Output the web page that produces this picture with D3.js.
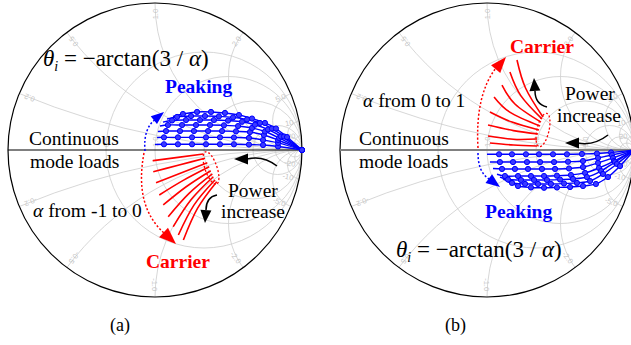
<!DOCTYPE html>
<html>
<head>
<meta charset="utf-8">
<script src="https://cdn.jsdelivr.net/npm/d3@7/dist/d3.min.js"></script>
<style>
  body { margin: 0; background: #fff; }
  svg { display: block; }
</style>
</head>
<body>
<svg id="fig" width="631" height="345"></svg>
<script>
// Smith chart grid values
var resistanceCircles = [0.5, 1, 2, 5, 10, 20];
var resistanceLabels = ['0.5', '1.0', '2.0', '5.0'];
var reactanceArcs = [0.2, 0.5, 1, 2, 5, 10, 20];
var reactanceLabels = ['0.2', '0.5', '1.0', '2.0', '5.0', '10', '20'];

// (a) peaking load trajectories, reflection coefficient [re, im]
var peakingA = [
  [[0.000,0.037],[0.061,0.039],[0.156,0.039],[0.252,0.039],[0.347,0.039],[0.442,0.039],[0.537,0.039],[0.639,0.037],[0.735,0.034],[0.837,0.024],[1,0]],
  [[0.014,0.085],[0.061,0.086],[0.156,0.086],[0.252,0.086],[0.347,0.086],[0.442,0.086],[0.537,0.085],[0.639,0.082],[0.735,0.068],[0.837,0.048],[1,0]],
  [[0.020,0.126],[0.075,0.129],[0.170,0.129],[0.265,0.129],[0.361,0.129],[0.456,0.129],[0.551,0.127],[0.646,0.122],[0.741,0.102],[0.837,0.068],[1,0]],
  [[0.034,0.163],[0.088,0.170],[0.184,0.170],[0.279,0.170],[0.374,0.170],[0.469,0.168],[0.565,0.163],[0.660,0.150],[0.748,0.126],[0.844,0.082],[1,0]],
  [[0.054,0.190],[0.116,0.201],[0.211,0.204],[0.306,0.204],[0.401,0.204],[0.497,0.200],[0.592,0.192],[0.680,0.172],[0.769,0.140],[0.857,0.092],[1,0]],
  [[0.082,0.211],[0.150,0.225],[0.245,0.231],[0.340,0.231],[0.435,0.229],[0.531,0.222],[0.626,0.208],[0.714,0.184],[0.796,0.146],[0.878,0.092],[1,0]],
  [[0.122,0.228],[0.190,0.245],[0.286,0.259],[0.381,0.259],[0.476,0.252],[0.571,0.238],[0.660,0.214],[0.748,0.184],[0.823,0.146],[0.898,0.088],[1,0]]
];

// (a) carrier load trajectories [start, middle, end]
var carrierA = [
  [[-0.016,-0.073],[0.156,-0.050],[0.329,-0.027]],
  [[-0.012,-0.148],[0.164,-0.102],[0.340,-0.056]],
  [[0.007,-0.222],[0.181,-0.154],[0.356,-0.086]],
  [[0.029,-0.306],[0.195,-0.205],[0.369,-0.114]],
  [[0.056,-0.374],[0.212,-0.250],[0.379,-0.141]],
  [[0.090,-0.454],[0.230,-0.297],[0.390,-0.163]],
  [[0.124,-0.522],[0.246,-0.337],[0.397,-0.182]],
  [[0.159,-0.578],[0.266,-0.373],[0.408,-0.204]],
  [[0.193,-0.612],[0.290,-0.396],[0.420,-0.216]]
];

// (b) peaking load trajectories
var peakingB = [
  [[0.000,-0.029],[0.082,-0.029],[0.170,-0.029],[0.265,-0.029],[0.354,-0.029],[0.449,-0.029],[0.544,-0.029],[0.646,-0.027],[0.748,-0.024],[0.844,-0.017],[1,0]],
  [[0.020,-0.082],[0.088,-0.082],[0.177,-0.082],[0.272,-0.082],[0.361,-0.082],[0.456,-0.082],[0.551,-0.080],[0.653,-0.075],[0.755,-0.054],[0.850,-0.034],[1,0]],
  [[0.041,-0.126],[0.102,-0.129],[0.190,-0.129],[0.279,-0.129],[0.374,-0.129],[0.463,-0.129],[0.558,-0.126],[0.653,-0.116],[0.755,-0.088],[0.857,-0.054],[1,0]],
  [[0.068,-0.165],[0.122,-0.177],[0.211,-0.177],[0.299,-0.177],[0.388,-0.177],[0.476,-0.175],[0.571,-0.170],[0.667,-0.156],[0.762,-0.122],[0.864,-0.075],[1,0]],
  [[0.088,-0.184],[0.143,-0.201],[0.231,-0.204],[0.320,-0.204],[0.408,-0.204],[0.497,-0.201],[0.585,-0.197],[0.680,-0.184],[0.776,-0.143],[0.871,-0.082],[1,0]],
  [[0.109,-0.197],[0.170,-0.224],[0.259,-0.231],[0.347,-0.231],[0.435,-0.231],[0.524,-0.228],[0.612,-0.224],[0.701,-0.211],[0.789,-0.163],[0.884,-0.095],[1,0]],
  [[0.136,-0.211],[0.211,-0.245],[0.299,-0.255],[0.388,-0.257],[0.476,-0.255],[0.565,-0.252],[0.653,-0.245],[0.741,-0.231],[0.823,-0.184],[0.905,-0.109],[1,0]]
];

// (b) carrier load trajectories [start, middle, end]
var carrierB = [
  [[0.204,0.612],[0.262,0.422],[0.381,0.224]],
  [[0.156,0.531],[0.230,0.370],[0.374,0.211]],
  [[0.102,0.442],[0.190,0.313],[0.367,0.190]],
  [[0.048,0.361],[0.155,0.258],[0.361,0.163]],
  [[0.020,0.259],[0.170,0.190],[0.354,0.136]],
  [[0.007,0.170],[0.180,0.132],[0.347,0.109]],
  [[0.007,0.095],[0.180,0.073],[0.340,0.075]],
  [[0.020,0.048],[0.180,0.034],[0.340,0.027]]
];

var SERIF = '"Liberation Serif", "Times New Roman", Times, serif';
var svg = d3.select('#fig');
var defs = svg.append('defs');

function arrowHead(g, tip, from, len, wid, color) {
  var dx = tip[0] - from[0], dy = tip[1] - from[1],
      d = Math.sqrt(dx * dx + dy * dy), ux = dx / d, uy = dy / d,
      bx = tip[0] - ux * len, by = tip[1] - uy * len;
  g.append('path')
    .attr('d', 'M' + tip + 'L' + [bx - uy * wid / 2, by + ux * wid / 2] +
               'L' + [bx + uy * wid / 2, by - ux * wid / 2] + 'Z')
    .style('fill', color);
}

function drawSmith(id, cx, cy, R, axisColor, axisWidth) {
  var x = d3.scaleLinear().domain([-1, 1]).range([cx - R, cx + R]),
      y = d3.scaleLinear().domain([-1, 1]).range([cy + R, cy - R]),
      k = R; // pixels per unit of reflection coefficient

  defs.append('clipPath').attr('id', 'clip' + id)
    .append('circle').attr('cx', cx).attr('cy', cy).attr('r', R);

  var g = svg.append('g'),
      grid = g.append('g').attr('clip-path', 'url(#clip' + id + ')')
        .style('fill', 'none').style('stroke', '#cdcdcd').style('stroke-width', 0.8);

  // constant resistance circles
  grid.selectAll('.rc').data(resistanceCircles).enter().append('circle')
    .attr('cx', function(r) { return x(r / (1 + r)); })
    .attr('cy', y(0))
    .attr('r', function(r) { return k / (1 + r); });

  // constant reactance arcs (upper and lower)
  var arcs = [];
  reactanceArcs.forEach(function(v) { arcs.push(v); arcs.push(-v); });
  grid.selectAll('.xc').data(arcs).enter().append('circle')
    .attr('cx', x(1))
    .attr('cy', function(v) { return y(1 / v); })
    .attr('r', function(v) { return k / Math.abs(v); });

  // rim labels for reactance
  var labels = g.append('g').style('fill', '#c6c6c6')
    .style('font-family', '"Liberation Sans", Arial, sans-serif').style('font-size', '7.5px');
  reactanceArcs.forEach(function(v, i) {
    [1, -1].forEach(function(s) {
      var xv = v * s,
          gr = (xv * xv - 1) / (xv * xv + 1), gi = 2 * xv / (xv * xv + 1),
          ang = Math.atan2(gi, gr) * 180 / Math.PI,
          px = x(gr * 0.96), py = y(gi * 0.96);
      labels.append('text')
        .attr('transform', 'translate(' + px + ',' + py + ') rotate(' + (-ang) + ')')
        .attr('text-anchor', 'end')
        .attr('dy', '0.35em')
        .text((s < 0 ? '-' : '') + reactanceLabels[i]);
    });
  });
  // labels for resistance circles on the real axis
  resistanceLabels.forEach(function(t, i) {
    var r = resistanceCircles[i], gr = (r - 1) / (r + 1);
    labels.append('text')
      .attr('transform', 'translate(' + x(gr) + ',' + (y(0) - 3) + ') rotate(-90)')
      .attr('dy', '0.35em')
      .text(t);
  });

  // outer rim and real axis
  g.append('circle').attr('cx', cx).attr('cy', cy).attr('r', R)
    .style('fill', 'none').style('stroke', '#000').style('stroke-width', 1.2);
  g.append('line').attr('x1', x(-1)).attr('x2', x(1)).attr('y1', y(0)).attr('y2', y(0))
    .style('stroke', axisColor).style('stroke-width', axisWidth);

  return {g: g, x: x, y: y};
}

function drawPeaking(c, rows) {
  var line = d3.line().x(function(d) { return c.x(d[0]); }).y(function(d) { return c.y(d[1]); })
    .curve(d3.curveCatmullRom);
  var pg = c.g.append('g');
  pg.selectAll('path').data(rows).enter().append('path')
    .attr('d', line)
    .style('fill', 'none').style('stroke', '#0000ff').style('stroke-width', 1.4);
  rows.forEach(function(row) {
    pg.selectAll(null).data(row.slice(1)).enter().append('circle')
      .attr('cx', function(d) { return c.x(d[0]); })
      .attr('cy', function(d) { return c.y(d[1]); })
      .attr('r', 2.6)
      .style('fill', '#3a3aff').style('stroke', '#0000ff').style('stroke-width', 1);
  });
}

function drawCarrier(c, rows) {
  var line = d3.line().x(function(d) { return c.x(d[0]); }).y(function(d) { return c.y(d[1]); })
    .curve(d3.curveNatural);
  c.g.append('g').selectAll('path').data(rows).enter().append('path')
    .attr('d', line)
    .style('fill', 'none').style('stroke', '#ff0000').style('stroke-width', 1.6);
}

function addText(g, x, y, str, size, opts) {
  opts = opts || {};
  return g.append('text').attr('x', x).attr('y', y)
    .attr('font-family', SERIF)
    .style('font-size', size + 'px')
    .style('font-weight', opts.bold ? 'bold' : 'normal')
    .style('fill', opts.color || '#000')
    .text(str);
}

function addFormula(g, x, y) {
  var t = g.append('text').attr('x', x).attr('y', y)
    .attr('font-family', SERIF).style('font-size', '23px');
  t.append('tspan').style('font-style', 'italic').text('\u03b8');
  t.append('tspan').style('font-style', 'italic').style('font-size', '14px').attr('dy', 5).text('i');
  t.append('tspan').attr('dy', -5).text(' = \u2212arctan(3 / ');
  t.append('tspan').style('font-style', 'italic').text('\u03b1');
  t.append('tspan').text(')');
}

function addAlpha(g, x, y, rest) {
  var t = g.append('text').attr('x', x).attr('y', y)
    .attr('font-family', SERIF).style('font-size', '19.5px');
  t.append('tspan').style('font-style', 'italic').text('\u03b1');
  t.append('tspan').text(rest);
}

function dotted(g, d, color) {
  g.append('path').attr('d', d)
    .style('fill', 'none').style('stroke', color).style('stroke-width', 1.5)
    .style('stroke-dasharray', '2,2');
}

function curvedArrow(g, d) {
  g.append('path').attr('d', d)
    .style('fill', 'none').style('stroke', '#000').style('stroke-width', 1.5);
}

// ---------- (a) ----------
var A = drawSmith('a', 155, 150, 147, '#000', 1.2);
drawCarrier(A, carrierA);
drawPeaking(A, peakingA);
var ga = A.g;
dotted(ga, 'M145,151 Q143,128 156,119', '#0000ff');
arrowHead(ga, [164, 112], [154, 120], 13, 10, '#0000ff');
dotted(ga, 'M144,153 Q134,206 164,233', '#ff0000');
arrowHead(ga, [176, 244], [162, 231], 17, 13, '#ff0000');
ga.append('ellipse').attr('cx', 211).attr('cy', 168).attr('rx', 6).attr('ry', 17)
  .attr('transform', 'rotate(-19,211,168)')
  .style('fill', 'none').style('stroke', '#ff0000').style('stroke-width', 1.3).style('stroke-dasharray', '2,2');
curvedArrow(ga, 'M277,166 Q263,155 247,159');
arrowHead(ga, [234, 159], [248, 159], 14, 11, '#000');
curvedArrow(ga, 'M217,195 Q206,197 206,210');
arrowHead(ga, [205, 223], [206, 209], 13, 11, '#000');
addFormula(ga, 43, 66);
addText(ga, 165, 93, 'Peaking', 19.5, {bold: true, color: '#0000ff'});
addText(ga, 29, 145, 'Continuous', 19.5);
addText(ga, 30, 168, 'mode loads', 19.5);
addAlpha(ga, 33, 217, ' from -1 to 0');
addText(ga, 228, 197, 'Power', 19.5);
addText(ga, 221, 218, 'increase', 19.5);
addText(ga, 146, 268, 'Carrier', 19.5, {bold: true, color: '#ff0000'});
addText(ga, 110, 331, '(a)', 18);

// ---------- (b) ----------
var B = drawSmith('b', 487, 150, 147, '#808080', 2);
drawCarrier(B, carrierB);
drawPeaking(B, peakingB);
var gb = B.g;
dotted(gb, 'M478,148 Q475,95 496,68', '#ff0000');
arrowHead(gb, [506, 57], [495, 70], 16, 12, '#ff0000');
dotted(gb, 'M478,153 Q478,172 489,179', '#0000ff');
arrowHead(gb, [500, 187], [488, 178], 14, 11, '#0000ff');
gb.append('ellipse').attr('cx', 543).attr('cy', 130).attr('rx', 6).attr('ry', 17)
  .attr('transform', 'rotate(13,543,130)')
  .style('fill', 'none').style('stroke', '#ff0000').style('stroke-width', 1.3).style('stroke-dasharray', '2,2');
curvedArrow(gb, 'M608,135 Q594,146 578,143');
arrowHead(gb, [565, 143], [579, 143], 14, 11, '#000');
curvedArrow(gb, 'M547,107 Q535,104 535,91');
arrowHead(gb, [534, 78], [535, 92], 13, 11, '#000');
addText(gb, 510, 53, 'Carrier', 19.5, {bold: true, color: '#ff0000'});
addAlpha(gb, 363, 107, ' from 0 to 1');
addText(gb, 565, 100, 'Power', 19.5);
addText(gb, 557, 122, 'increase', 19.5);
addText(gb, 359, 145, 'Continuous', 19.5);
addText(gb, 359, 168, 'mode loads', 19.5);
addText(gb, 485, 218, 'Peaking', 19.5, {bold: true, color: '#0000ff'});
addFormula(gb, 396, 257);
addText(gb, 445, 331, '(b)', 18);
</script>
</body>
</html>
